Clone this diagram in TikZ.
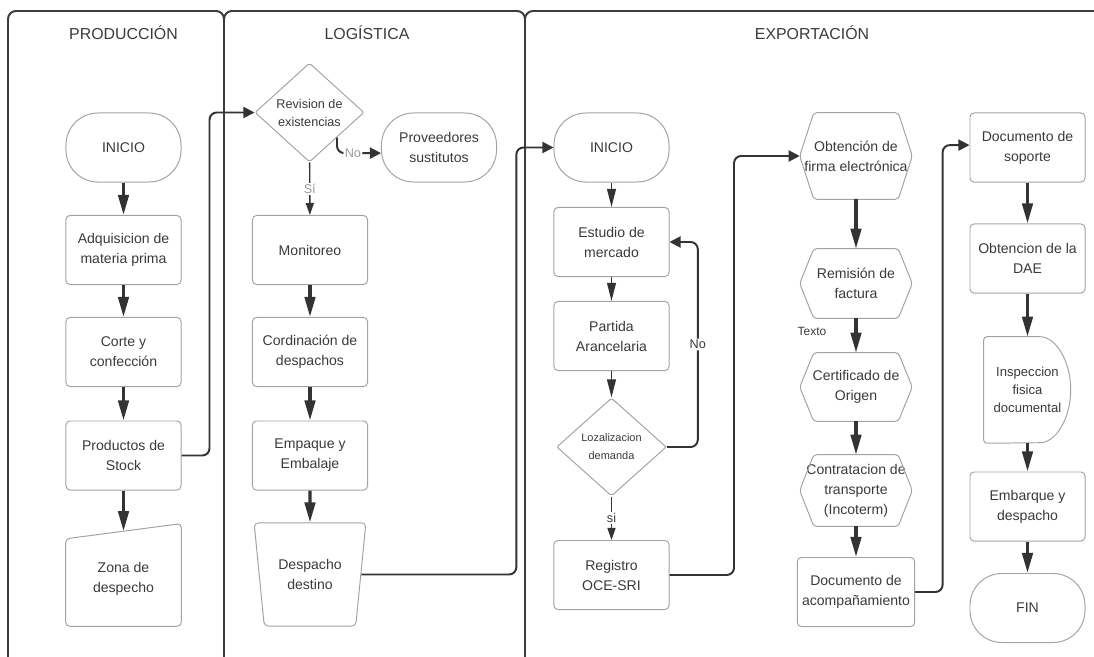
\documentclass[tikz,border=0pt]{standalone}
\usepackage{fontspec}
\setmainfont{Liberation Sans}
\usepackage{xcolor}
\usepackage{tikz}
\usetikzlibrary{shapes.geometric, arrows.meta}
\definecolor{lanegray}{HTML}{3C3C3C}
\definecolor{boxgray}{HTML}{A3A3A3}
\definecolor{inkgray}{HTML}{3A3A3A}
\definecolor{arrowgray}{HTML}{333333}
\definecolor{labelgray}{HTML}{9A9A9A}

\tikzset{
    lane/.style={draw=lanegray, line width=1.4pt, rounded corners=0.2cm},
    lanetitle/.style={text=inkgray, font=\fontsize{11.3}{13}\selectfont},
    procbox/.style={rectangle, draw=boxgray, line width=0.7pt, rounded corners=0.1cm, minimum width=2.875cm, minimum height=1.725cm, align=center, text=inkgray, font=\fontsize{10}{14.2}\selectfont},
    termbox/.style={procbox, rounded corners=0.8cm},
    decbox/.style={diamond, draw=boxgray, line width=0.7pt, rounded corners=0.05cm, inner sep=0pt, align=center, text=inkgray, font=\fontsize{9}{12.8}\selectfont},
    shapebox/.style={rectangle, inner sep=0pt, minimum width=2.8cm, align=center, text=inkgray, font=\fontsize{10}{14.2}\selectfont},
    outline/.style={draw=boxgray, line width=0.7pt, rounded corners=0.08cm},
    flow/.style={draw=arrowgray, line width=2.3pt, -{Triangle[width=0.26cm, length=0.5cm]}},
    thinflow/.style={draw=arrowgray, line width=1pt, -{Triangle[width=0.22cm, length=0.45cm]}},
    answerflow/.style={draw=arrowgray, line width=1pt, -{Triangle[width=0.2cm, length=0.3cm]}},
    conn/.style={draw=arrowgray, line width=1.4pt, rounded corners=0.18cm, -{Triangle[width=0.28cm, length=0.28cm]}},
    answer/.style={fill=white, inner sep=1pt, text=inkgray, font=\fontsize{9}{10}\selectfont},
}

\begin{document}
\begin{tikzpicture}[x=0.025cm, y=-0.025cm]
    \useasboundingbox (0,0) rectangle (1094,657);

    % Lanes
    \draw[lane] (8,657) -- (8,11) -- (224,11) -- (224,657);
    \draw[lane] (224,657) -- (224,11) -- (525,11) -- (525,657);
    \draw[lane] (525,657) -- (525,11) -- (1094,11);
    \node[lanetitle] (prodT) at (123.5,33) {PRODUCCIÓN};
    \node[lanetitle] (logT) at (367,33) {LOGÍSTICA};
    \node[lanetitle] (expT) at (812,33) {EXPORTACIÓN};

    % Produccion
    \node[termbox] (iniP) at (123.5,147.5) {INICIO};
    \node[procbox] (adq) at (123.5,250) {Adquisicion de\\materia prima};
    \node[procbox] (corte) at (123.5,352) {Corte y\\confección};
    \node[procbox] (stock) at (123.5,455.5) {Productos de\\Stock};
    \node[shapebox, minimum width=2.875cm, minimum height=2.3625cm] (zona) at (123.5,578.75) {Zona de\\despecho};
    \draw[outline, rounded corners=0.1cm] (zona.south west) -- ([yshift=-0.19cm]zona.north west) -- ([yshift=0.19cm]zona.north east) -- (zona.south east) -- cycle;

    % Logistica
    \node[decbox, minimum width=2.725cm, minimum height=2.475cm] (rev) at (309.5,112.5) {Revision de\\existencias};
    \node[termbox] (prov) at (439,147.5) {Proveedores\\sustitutos};
    \node[procbox] (mon) at (310,250) {Monitoreo};
    \node[procbox] (cord) at (310,352) {Cordinación de\\despachos};
    \node[procbox] (emp) at (310,455.5) {Empaque y\\Embalaje};
    \node[procbox, trapezium, shape border rotate=180, trapezium angle=78.5, trapezium stretches=true, minimum width=2.8cm, minimum height=2.575cm] (desp) at (310,574.5) {Despacho\\destino};

    % Exportacion
    \node[termbox] (iniE) at (611.5,147.5) {INICIO};
    \node[procbox] (est) at (611.5,242) {Estudio de\\mercado};
    \node[procbox] (part) at (611.5,336) {Partida\\Arancelaria};
    \node[decbox, font=\fontsize{7.8}{12.8}\selectfont, minimum width=2.74cm, minimum height=2.45cm] (loz) at (611.5,447) {Lozalizacion\\demanda};
    \node[procbox] (reg) at (611.5,575) {Registro\\OCE-SRI};

    \node[shapebox, minimum height=2.15cm] (firma) at (856,156) {Obtención de\\firma electrónica};
    \node[shapebox, minimum height=1.725cm] (remi) at (856,283.5) {Remisión de\\factura};
    \node[shapebox, minimum height=1.7cm] (cert) at (856,387) {Certificado de\\Origen};
    \node[shapebox, minimum height=1.775cm] (contr) at (856,490.5) {Contratacion de\\transporte\\(Incoterm)};
    \draw[outline] (firma.west) -- ([xshift=0.35cm]firma.north west) -- ([xshift=-0.35cm]firma.north east) -- (firma.east) -- ([xshift=-0.35cm]firma.south east) -- ([xshift=0.35cm]firma.south west) -- cycle;
    \draw[outline] (remi.west) -- ([xshift=0.35cm]remi.north west) -- ([xshift=-0.35cm]remi.north east) -- (remi.east) -- ([xshift=-0.35cm]remi.south east) -- ([xshift=0.35cm]remi.south west) -- cycle;
    \draw[outline] (cert.west) -- ([xshift=0.35cm]cert.north west) -- ([xshift=-0.35cm]cert.north east) -- (cert.east) -- ([xshift=-0.35cm]cert.south east) -- ([xshift=0.35cm]cert.south west) -- cycle;
    \draw[outline] (contr.west) -- ([xshift=0.35cm]contr.north west) -- ([xshift=-0.35cm]contr.north east) -- (contr.east) -- ([xshift=-0.35cm]contr.south east) -- ([xshift=0.35cm]contr.south west) -- cycle;
    \node[procbox] (acomp) at (856,592) {Documento de\\acompañamiento};
    \node[text=inkgray, font=\fontsize{8.5}{10}\selectfont] (texto) at (812,331) {Texto};

    \node[procbox] (sop) at (1027.5,147.5) {Documento de\\soporte};
    \node[procbox] (dae) at (1027.5,258.5) {Obtencion de la\\DAE};
    \node[shapebox, font=\fontsize{9.3}{13}\selectfont, minimum width=2.175cm, minimum height=2.65cm] (insp) at (1027.5,390) {Inspeccion\\fisica\\documental};
    \draw[outline] (insp.south west) -- (insp.north west) -- ++(53,0) arc[start angle=90, end angle=-90, x radius=0.85cm, y radius=1.325cm] -- cycle;
    \node[procbox] (emb) at (1027.5,506.5) {Embarque y\\despacho};
    \node[termbox] (fin) at (1027.5,608) {FIN};

    % Flow arrows
    \draw[flow] (iniP) -- (adq);
    \draw[flow] (adq) -- (corte);
    \draw[flow] (corte) -- (stock);
    \draw[flow] (stock) -- (zona);
    \draw[answerflow] (rev) -- node[answer, text=labelgray] (siL) {Sí} (mon);
    \draw[conn] (rev.south east) |- node[answer, text=labelgray, pos=0.68] (noL) {No} ([yshift=-0.14cm]prov.west);
    \draw[flow] (mon) -- (cord);
    \draw[flow] (cord) -- (emp);
    \draw[flow] (emp) -- (desp);
    \draw[thinflow] (iniE) -- (est);
    \draw[thinflow] (est) -- (part);
    \draw[thinflow] (part) -- (loz);
    \draw[answerflow] (loz) -- node[answer] (siE) {si} (reg);
    \draw[conn] (loz.east) -- ++(31,0) |- node[answer, pos=0.25] (noE) {No} (est.east);
    \draw[flow] (firma) -- (remi);
    \draw[flow] (remi) -- (cert);
    \draw[flow] (cert) -- (contr);
    \draw[flow] (contr) -- (acomp);
    \draw[flow] (sop) -- (dae);
    \draw[flow] (dae) -- (insp);
    \draw[flow] (insp) -- (emb);
    \draw[flow] (emb) -- (fin);

    % Lane connectors
    \draw[conn] (stock.east) -- ++(28,0) |- (rev.west);
    \draw[conn] (desp.east) -- ++(155,0) |- (iniE.west);
    \draw[conn] (reg.east) -- ++(64.5,0) |- (firma.west);
    \draw[conn] (acomp.east) -- ++(27.5,0) |- ([yshift=0.06cm]sop.west);
\end{tikzpicture}
\end{document}
